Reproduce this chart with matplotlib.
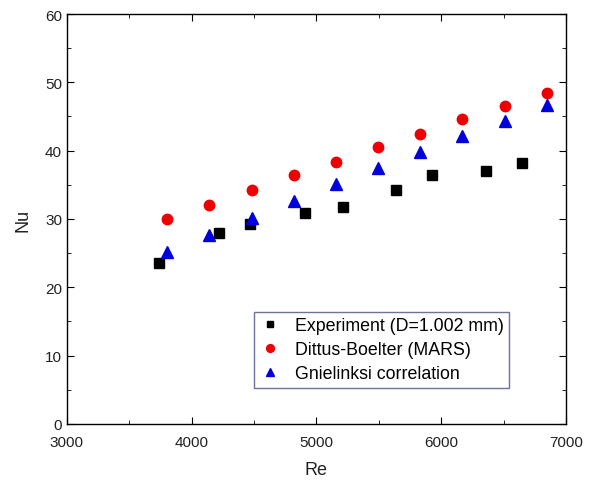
import numpy as np
import matplotlib.pyplot as plt
from matplotlib.ticker import MultipleLocator

plt.rcParams['font.family'] = ['Liberation Sans', 'DejaVu Sans']

re_exp = [3740, 4220, 4465, 4910, 5210, 5640, 5925, 6360, 6650]
nu_exp = [23.6, 28.0, 29.2, 30.9, 31.7, 34.2, 36.4, 37.0, 38.2]

re_corr = [3805, 4140, 4480, 4820, 5155, 5495, 5830, 6170, 6510, 6850]
nu_db = [30.0, 32.1, 34.2, 36.4, 38.4, 40.5, 42.5, 44.6, 46.5, 48.5]
nu_gn = [25.1, 27.7, 30.2, 32.6, 35.1, 37.5, 39.8, 42.1, 44.4, 46.7]

fig = plt.figure(figsize=(5.92, 4.85), dpi=100)
ax = fig.add_axes([0.113, 0.124, 0.843, 0.845])

ax.plot(re_exp, nu_exp, 's', color='black', markersize=6.5, label='Experiment (D=1.002 mm)')
ax.plot(re_corr, nu_db, 'o', color='#ee0000', markersize=7.5, label='Dittus-Boelter (MARS)')
ax.plot(re_corr, nu_gn, '^', color='#0000dd', markersize=8, label='Gnielinksi correlation')

ax.set_xlim(3000, 7000)
ax.set_ylim(0, 60)
ax.xaxis.set_major_locator(MultipleLocator(1000))
ax.xaxis.set_minor_locator(MultipleLocator(500))
ax.yaxis.set_major_locator(MultipleLocator(10))
ax.yaxis.set_minor_locator(MultipleLocator(5))
ax.tick_params(which='both', direction='in', top=True, right=True, labelsize=11, labelcolor='#222222')
ax.tick_params(which='major', length=5)
ax.tick_params(which='minor', length=3)
ax.tick_params(axis='x', pad=8)
for s in ax.spines.values():
    s.set_linewidth(1.0)

ax.set_xlabel('Re', fontsize=13, color='#222222', labelpad=9)
ax.set_ylabel('Nu', fontsize=13, color='#222222', labelpad=10)

leg = ax.legend(loc='lower left', bbox_to_anchor=(0.375, 0.088), borderaxespad=0,
                fontsize=12.8, fancybox=False, framealpha=1, edgecolor='#7070a0',
                handletextpad=0.8, borderpad=0.3, labelspacing=0.4, markerscale=0.75,
                handlelength=1.2)
leg.get_frame().set_linewidth(1.0)

fig.savefig('out.png', dpi=100)
